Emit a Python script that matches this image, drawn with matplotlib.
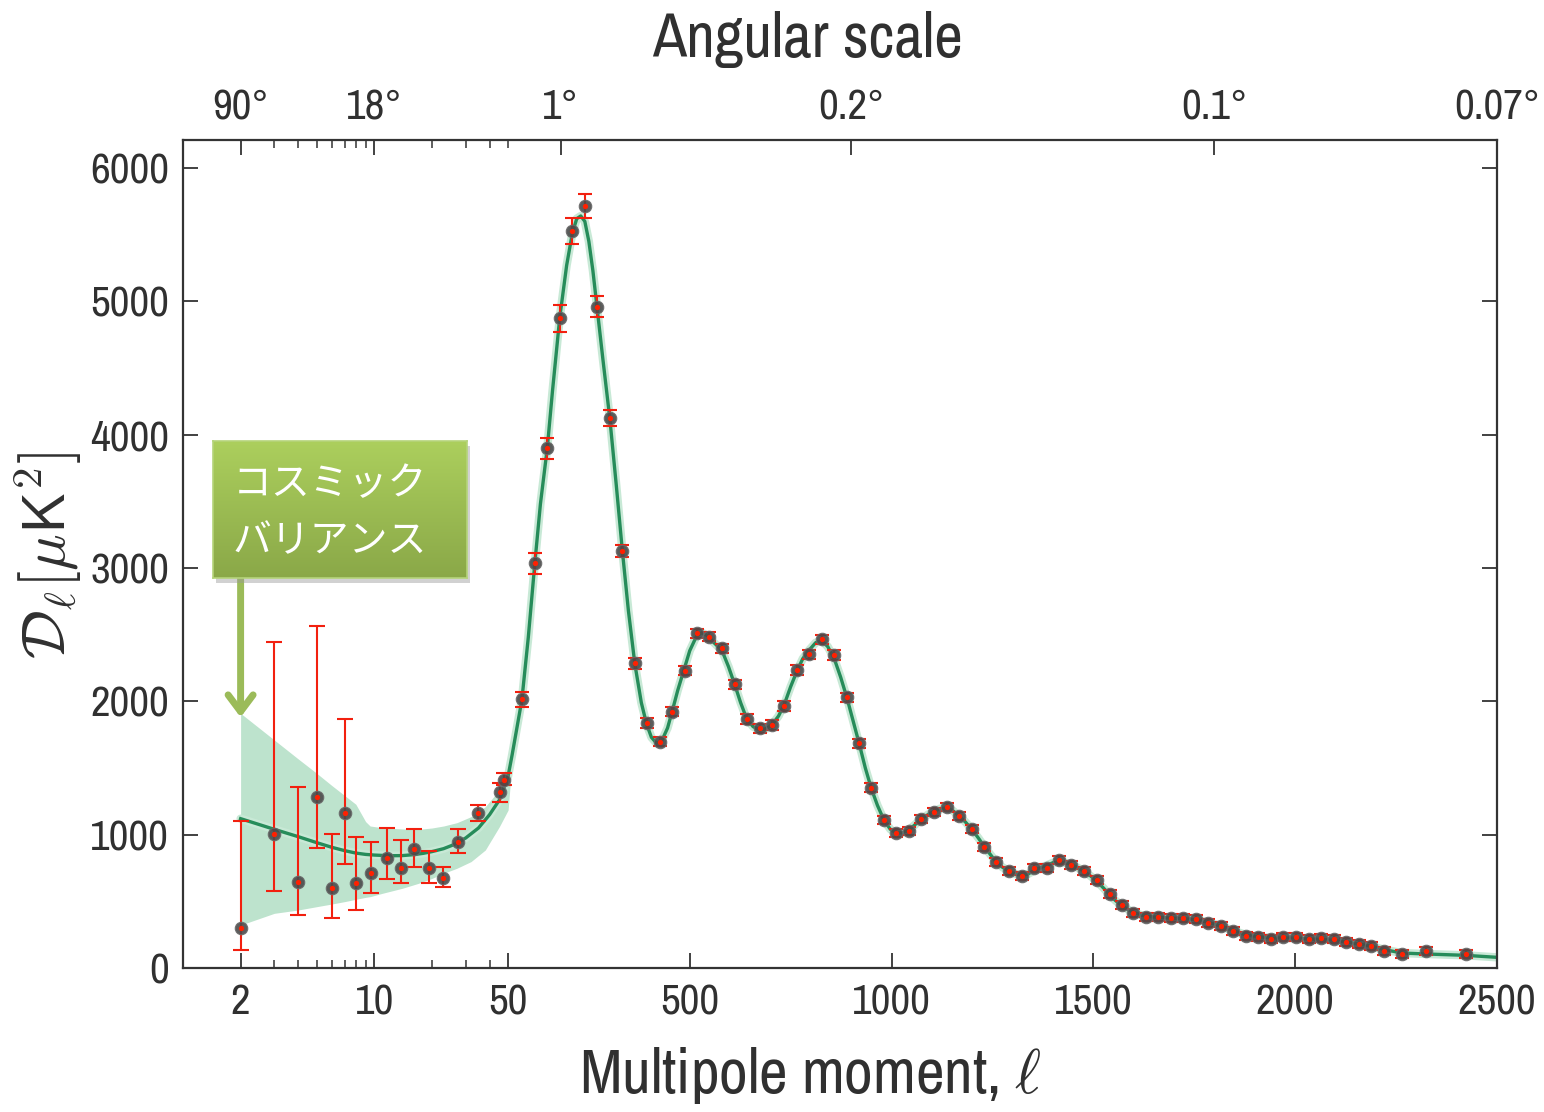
import matplotlib
matplotlib.use('Agg')
import matplotlib.pyplot as plt
import numpy as np
from matplotlib import font_manager
from matplotlib.patches import Rectangle

# Fonts: a narrow sans if one is installed
names = {f.name for f in font_manager.fontManager.ttflist}
main_font, tick_fs, lab_fs = 'DejaVu Sans', 23, 34
for fam, tfs, lfs in [('Archivo Narrow', 31, 45), ('Liberation Sans Narrow', 31, 45),
                      ('Barlow Semi Condensed', 30, 43)]:
    if fam in names:
        main_font, tick_fs, lab_fs = fam, tfs, lfs
        break
plt.rcParams['font.family'] = [main_font, 'DejaVu Sans']
plt.rcParams['mathtext.fontset'] = 'cm'

# ---- data ----
# theory curve (best fit)
theory_l = [2, 3, 4, 5, 6, 7, 8, 9, 10, 12, 14, 16, 18, 20, 23, 26, 30, 35, 40, 45,
            50, 60, 70, 84, 100, 116, 130, 147, 160, 178, 195, 209, 220, 230, 240,
            250, 260, 270, 285, 302, 318, 333, 348, 364, 380, 393, 405, 418, 430,
            445, 456, 470, 486, 500, 517, 530, 545, 560, 580, 596, 612, 626, 641,
            657, 674, 690, 704, 720, 734, 750, 766, 780, 796, 812, 827, 842, 858,
            874, 890, 905, 920, 935, 950, 965, 981, 997, 1012, 1028, 1043, 1060,
            1074, 1090, 1105, 1120, 1137, 1152, 1167, 1183, 1199, 1215, 1230, 1245,
            1259, 1275, 1292, 1307, 1323, 1338, 1353, 1370, 1385, 1400, 1415, 1430,
            1445, 1460, 1477, 1493, 1509, 1525, 1540, 1555, 1570, 1585, 1599, 1615,
            1631, 1661, 1693, 1723, 1755, 1785, 1816, 1847, 1878, 1909, 1940, 1971,
            2003, 2033, 2064, 2095, 2126, 2157, 2189, 2221, 2265, 2325, 2422, 2500]
theory_d = [1120, 1040, 985, 940, 905, 880, 862, 852, 847, 842, 843, 850, 860, 873, 895,
            925, 975, 1050, 1150, 1260, 1440, 1600, 1770, 2010, 2480, 3030, 3480, 3900,
            4330, 4880, 5270, 5510, 5620, 5640, 5600, 5450, 5230, 4960, 4560, 4120,
            3620, 3130, 2680, 2280, 1990, 1830, 1730, 1685, 1700, 1800, 1920, 2080,
            2240, 2380, 2490, 2515, 2490, 2440, 2380, 2260, 2120, 1990, 1870, 1810,
            1785, 1795, 1825, 1890, 1975, 2110, 2230, 2320, 2385, 2440, 2455, 2410,
            2320, 2180, 2020, 1850, 1680, 1500, 1345, 1220, 1110, 1040, 1012, 1015,
            1035, 1080, 1120, 1150, 1175, 1195, 1200, 1180, 1140, 1095, 1040, 975,
            910, 850, 795, 755, 725, 705, 695, 705, 730, 755, 770, 790, 795, 790, 775,
            755, 725, 690, 650, 600, 550, 505, 470, 440, 418, 400, 388, 380, 374, 370,
            362, 342, 315, 280, 248, 235, 225, 225, 224, 218, 214, 208, 195, 180, 163,
            138, 112, 105, 95, 80]

# cosmic variance band at low multipoles
band_l = [2, 3, 4, 5, 6, 7, 8, 9, 9.5, 11, 14, 17, 20, 23, 27, 32, 38, 45, 50, 60]
band_hi = [1910, 1710, 1568, 1460, 1368, 1293, 1228, 1098, 1065, 1052, 1043, 1040,
           1050, 1065, 1090, 1135, 1210, 1335, 1435, 1640]
band_lo = [322, 410, 435, 460, 480, 498, 515, 530, 535, 560, 598, 635, 672, 710,
           748, 798, 885, 1060, 1185, 1560]

# measured points, low multipoles (asymmetric errors)
low_l = [2, 3, 4, 5, 6, 7, 8, 9.6, 11.6, 13.7, 16.2, 19.3, 22.9, 27.4, 34.9, 45.4, 47.8]
low_d = [298, 1003, 648, 1285, 598, 1160, 635, 710, 827, 752, 890, 752, 672, 943,
         1160, 1318, 1410]
low_hi = [1102, 2448, 1360, 2568, 1003, 1868, 980, 943, 1052, 960, 1040, 878, 760,
          1040, 1222, 1385, 1460]
low_lo = [135, 578, 397, 903, 378, 778, 435, 560, 665, 640, 760, 640, 605, 860,
          1102, 1247, 1372]

# measured points, binned high multipoles
high_l = [84, 116, 147, 178, 209, 240, 270, 302, 333, 364, 393, 426, 456, 487, 518,
          547, 580, 612, 641, 674, 704, 734, 766, 796, 827, 858, 890, 920, 950, 981,
          1012, 1043, 1074, 1105, 1137, 1167, 1199, 1230, 1259, 1292, 1323, 1353,
          1385, 1415, 1445, 1477, 1509, 1540, 1570, 1599, 1631, 1661, 1693, 1723,
          1755, 1785, 1816, 1847, 1878, 1909, 1940, 1971, 2003, 2033, 2064, 2095,
          2126, 2157, 2189, 2221, 2265, 2325, 2422]
high_d = [2015, 3035, 3898, 4873, 5528, 5715, 4960, 4123, 3128, 2285, 1835, 1697,
          1922, 2230, 2510, 2485, 2398, 2128, 1868, 1798, 1823, 1965, 2235, 2353,
          2465, 2348, 2030, 1685, 1352, 1110, 1015, 1030, 1118, 1173, 1210, 1143,
          1043, 910, 793, 728, 690, 748, 748, 810, 773, 728, 660, 552, 473, 415,
          385, 380, 373, 373, 368, 340, 315, 278, 243, 235, 218, 230, 230, 215,
          222, 215, 193, 180, 165, 128, 105, 128, 105]
high_err = [55, 80, 80, 100, 95, 90, 80, 60, 48, 40, 38, 35, 35, 35, 35, 35, 35, 35,
            35, 35, 35, 35, 35, 35, 35, 35, 35, 33, 32, 30, 30, 30, 30, 30, 30, 30,
            30, 30, 30, 30, 30, 30, 30, 30, 30, 30, 30, 30, 30, 30, 30, 30, 30, 30,
            30, 30, 30, 30, 30, 30, 30, 30, 30, 30, 30, 30, 30, 30, 30, 30, 30, 30, 30]

bottom_ticks = [2, 10, 50, 500, 1000, 1500, 2000, 2500]
top_ticks = [2, 10, 180, 900, 1800, 2500]
top_labels = ['90°', '18°', '1°', '0.2°', '0.1°', '0.07°']
minor_ticks = [3, 4, 5, 6, 7, 8, 9, 20, 30, 40]

# ---- hybrid log / linear x scale ----
A = 325.0          # width of log part (1..50)
B = 988.5 / 2450.  # linear part (50..2500)


def fwd(x):
    x = np.asarray(x, dtype=float)
    xl = np.clip(x, 1e-3, None)
    return np.where(x <= 50, np.log10(xl) / np.log10(50) * A, A + (x - 50) * B)


def inv(y):
    y = np.asarray(y, dtype=float)
    return np.where(y <= A, 10 ** (np.clip(y, -1e4, A) / A * np.log10(50)),
                    50 + (y - A) / B)


W, H = 1544, 1112
fig = plt.figure(figsize=(W / 100, H / 100), dpi=100)
fig.patch.set_facecolor('white')
ax = fig.add_axes([183 / W, 1 - 968 / H, (1497 - 183) / W, (968 - 140) / H])
ax.set_xscale('function', functions=(fwd, inv))
ax.set_xlim(1, 2500)
ax.set_ylim(0, 6210)

band_c = '#bde3cd'
line_c = '#268c5a'
red_c = '#f2200f'
txt_c = '#303030'

ax.fill_between(band_l, band_lo, band_hi, color=band_c, lw=0, zorder=1)
ax.plot(theory_l, theory_d, color='#c8e9d6', lw=6, solid_capstyle='round', zorder=1.5)
ax.plot(theory_l, theory_d, color=line_c, lw=2.4, zorder=2)

# data points
lo_err = np.array(low_d) - np.array(low_lo)
hi_err = np.array(low_hi) - np.array(low_d)
ax.errorbar(low_l, low_d, yerr=[lo_err, hi_err], fmt='none', ecolor=red_c,
            elinewidth=1.5, capsize=6, capthick=1.5, zorder=3)
ax.errorbar(high_l, high_d, yerr=high_err, fmt='none', ecolor=red_c,
            elinewidth=1.5, capsize=5, capthick=1.5, zorder=3)
all_l = low_l + high_l
all_d = low_d + high_d
ax.plot(all_l, all_d, 'o', ms=9, color='#4a4a4a', mec='#6a6a6a', mew=0.8,
        alpha=0.9, zorder=4)
ax.plot(all_l, all_d, 'o', ms=3.8, color='#ff2000', mec='none', zorder=5)

# ticks / spines
ax.set_xticks(bottom_ticks, [str(t) for t in bottom_ticks])
ax.set_xticks(minor_ticks, minor=True)
ax.set_yticks(range(0, 7000, 1000))
ax.tick_params(which='both', direction='in', top=False, right=True,
               labelsize=tick_fs, color='#333333', labelcolor=txt_c)
ax.tick_params(which='major', length=11, width=1.3, pad=11)
ax.tick_params(which='minor', length=6, width=1.1)
ax.tick_params(axis='y', pad=10)
for s in ax.spines.values():
    s.set_color('#333333')
    s.set_linewidth(1.6)

ax2 = ax.twiny()
ax2.set_xscale('function', functions=(fwd, inv))
ax2.set_xlim(1, 2500)
ax2.set_xticks(top_ticks, top_labels)
ax2.set_xticks(minor_ticks + [50], minor=True)
ax2.tick_params(which='both', direction='in', labelsize=tick_fs, color='#333333',
                labelcolor=txt_c)
ax2.tick_params(which='major', length=11, width=1.3, pad=10)
ax2.tick_params(which='minor', length=6, width=1.1)
for s in ax2.spines.values():
    s.set_visible(False)

# labels
fig.text(808 / W, 1 - 40 / H, 'Angular scale', ha='center', va='center',
         fontsize=lab_fs, color=txt_c)
fig.text(810 / W, 1 - 1076 / H, r'Multipole moment, $\ell$', ha='center',
         va='center', fontsize=lab_fs, color=txt_c)
fig.text(48 / W, 1 - 555 / H, r'$\mathcal{D}_\ell[\mu\mathsf{K}^2]$', rotation=90,
         ha='center', va='center', fontsize=44, color=txt_c)

# annotation box with gradient
bx, by, bw, bh = 213, 441, 254, 137
shadow = Rectangle(((bx + 3) / W, 1 - (by + bh + 5) / H), bw / W, bh / H,
                   transform=fig.transFigure, color='#999999', alpha=0.45,
                   zorder=1, lw=0)
fig.patches.append(shadow)
bax = fig.add_axes([bx / W, 1 - (by + bh) / H, bw / W, bh / H], zorder=2)
grad = np.linspace(0, 1, 256)[:, None]
cols = np.array([[172, 207, 93], [138, 168, 72]]) / 255.
img = cols[0] * (1 - grad[..., None]) + cols[1] * grad[..., None]
bax.imshow(img, aspect='auto', extent=[0, 1, 0, 1])
bax.set_xticks([])
bax.set_yticks([])
for s in bax.spines.values():
    s.set_color('#b5d47a')
    s.set_linewidth(1.2)
jp = ['Noto Sans CJK JP', 'DejaVu Sans']
fig.text(233 / W, 1 - 484 / H, 'コスミック', family=jp, fontsize=28, color='white',
         ha='left', va='center', zorder=3)
fig.text(233 / W, 1 - 541 / H, 'バリアンス', family=jp, fontsize=28, color='white',
         ha='left', va='center', zorder=3)

# arrow from box to the band at l=2
ax.annotate('', xy=(2, 1880), xytext=(2, 1 - 579 / H),
            textcoords=('data', 'figure fraction'),
            arrowprops=dict(arrowstyle='->,head_length=0.6,head_width=0.45',
                            color='#9bbb59', lw=5, mutation_scale=20,
                            shrinkA=0, shrinkB=0),
            annotation_clip=False, zorder=6)

fig.savefig('out.png', dpi=100)
